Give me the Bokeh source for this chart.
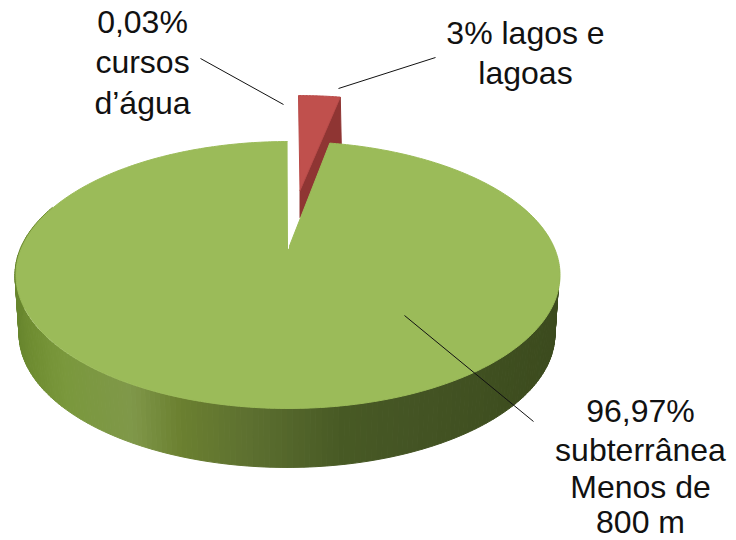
import numpy as np
from bokeh.plotting import figure
from bokeh.models import Range1d
from bokeh.core.properties import value
from bokeh.embed import file_html
from bokeh.resources import INLINE

# --- data ---
categories = ["lagos e lagoas", "subterranea", "cursos d'agua"]
shares = [3, 96.97, 0.03]
label_lines = ["0,03%", "cursos", "d’água", "3% lagos e", "lagoas",
               "96,97%", "subterrânea", "Menos de", "800 m"]
label_x = [142, 142, 142, 525, 525, 640, 640, 640, 640]
label_y = [21, 61, 102, 32, 72, 410, 449, 486, 521]
leader_x = [[200, 283], [338, 435], [404, 533]]
leader_y = [[58, 104], [88, 57], [315, 421]]

# --- pie geometry (a tilted disc seen in perspective) ---
AX, AY = 286.5, 248.0      # pie centre on screen
K, A, B = 0.1985, 128.2, 266.6
DEPTH = 59.0
RED_RIM = (11.5, -46.0)
RED_APEX = (13.0, -58.0)


def project(theta_deg):
    t = np.radians(np.asarray(theta_deg, dtype=float))
    u, v = np.sin(t), np.cos(t)
    d = 1 + K * v
    return AX + B * u / d, AY - A * v / d


def arc(start, end, n=160):
    return project(np.linspace(start, end, n))


ends = np.cumsum(shares) / np.sum(shares) * 360.0
starts = np.concatenate([[0.0], ends[:-1]])

p = figure(width=736, height=540, output_backend="svg", toolbar_location=None,
           x_range=Range1d(0, 736), y_range=Range1d(540, 0),
           x_axis_type=None, y_axis_type=None, min_border=0,
           outline_line_color=None, background_fill_color="white")
p.grid.visible = False

# --- red exploded slice ---
rx, ry = arc(starts[0], ends[0], 30)
top_x = np.concatenate([[AX + RED_APEX[0]], rx + RED_RIM[0]])
top_y = np.concatenate([[AY + RED_APEX[1]], ry + RED_RIM[1]])
# right cut wall
wx = [top_x[-1], top_x[-1] + 1, top_x[0], top_x[0]]
wy = [top_y[-1], top_y[-1] + 49, top_y[0] + 27, top_y[0]]
p.patch(wx, wy, fill_color="#8f3533", line_color="#8f3533", line_width=1)
p.patch(top_x, top_y, fill_color="#c0504d", line_color="#b94a48", line_width=1)

# --- green side wall, shaded across its width ---
shade_x = [14, 30, 60, 130, 180, 250, 340, 420, 500, 558]
shade_r = [104, 112, 122, 128, 107, 93, 72, 68, 63, 60]
shade_g = [134, 142, 152, 152, 128, 112, 90, 84, 79, 75]
shade_b = [46, 50, 60, 74, 48, 48, 37, 36, 32, 30]
thetas = np.linspace(70, 290, 221)
tx, ty = project(thetas)
bx = 286 + (tx - 286) * 0.985
by = ty + DEPTH
xs, ys, cols = [], [], []
for i in range(len(thetas) - 1):
    xs.append([tx[i], tx[i + 1], bx[i + 1], bx[i]])
    ys.append([ty[i], ty[i + 1], by[i + 1], by[i]])
    xm = (tx[i] + tx[i + 1]) / 2
    cols.append("#%02x%02x%02x" % (int(np.interp(xm, shade_x, shade_r)),
                                   int(np.interp(xm, shade_x, shade_g)),
                                   int(np.interp(xm, shade_x, shade_b))))
p.patches(xs, ys, fill_color=cols, line_color=cols, line_width=1)

# --- green top face ---
gx, gy = arc(starts[1], ends[1], 400)
p.patch(np.concatenate([[AX + 1.5], gx + 1]), np.concatenate([[AY], gy]),
        fill_color="#9bbb59", line_color="#9bbb59", line_width=1)

# --- tiny third slice ---
sx, sy = arc(starts[2], ends[2], 4)
p.patch(np.concatenate([[AX + 1.5], sx + 1.5]), np.concatenate([[AY], sy]),
        fill_color="#ffffff", line_color="#ffffff", line_width=1)

# --- leaders and labels ---
p.multi_line(leader_x, leader_y, line_color="#111111", line_width=1)
p.text(label_x, label_y, text=label_lines, text_font=value("Liberation Sans"),
       text_font_size="32px", text_color="#111111",
       text_align="center", text_baseline="middle")

open("out.html", "w").write(file_html(p, INLINE))
